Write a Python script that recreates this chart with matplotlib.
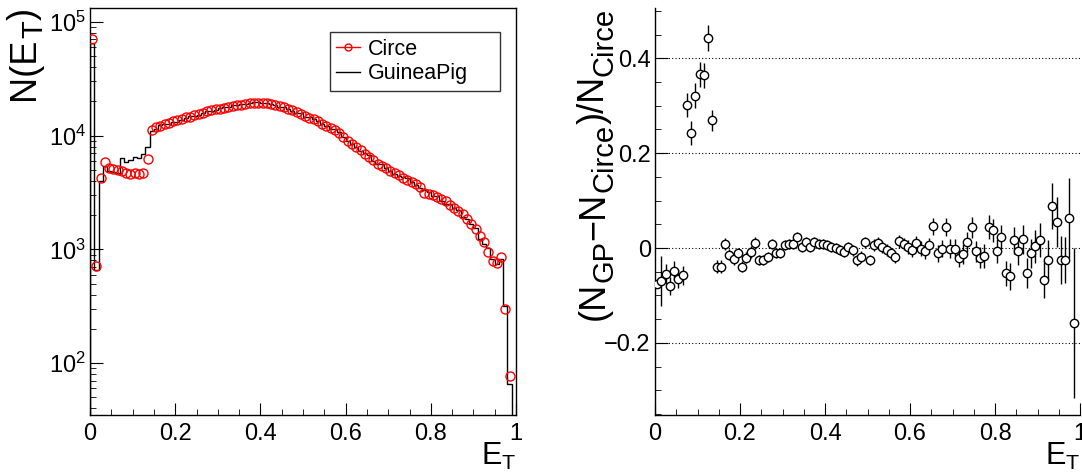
import numpy as np
import matplotlib
matplotlib.use('Agg')
import matplotlib.pyplot as plt
from matplotlib.ticker import MultipleLocator, LogLocator, NullFormatter, FuncFormatter
from matplotlib.lines import Line2D

plt.rcParams['font.family'] = ['Liberation Sans', 'DejaVu Sans']
plt.rcParams['mathtext.fontset'] = 'custom'
plt.rcParams['mathtext.rm'] = 'Liberation Sans'
plt.rcParams['mathtext.it'] = 'Liberation Sans'
plt.rcParams['mathtext.default'] = 'regular'

# ---------------- data ----------------
n_bins = 100
e_min, e_max = 0.0, 1.0

circe_counts = [
    70000, 713, 4220, 5910, 5160, 5130, 5020, 4920, 4700, 4630,
    4730, 4630, 4730, 6240, 11290, 11920, 12240, 12680, 13010, 13360,
    13750, 14100, 14490, 14690, 15080, 15500, 15920, 16360, 16600, 17030,
    17270, 17500, 17740, 18240, 18370, 18620, 18750, 19230, 19370, 19370,
    19370, 19230, 18970, 18620, 18090, 17740, 17170, 16690, 16030, 15610,
    14990, 14310, 13830, 13280, 12680, 12240, 11690, 11140, 10620, 9750,
    8920, 8340, 7890, 7430, 6950, 6450, 6070, 5670, 5370, 5200,
    4920, 4700, 4480, 4250, 4050, 3920, 3730, 3540, 3150, 3050,
    2990, 2900, 2785, 2660, 2450, 2330, 2175, 2040, 1860, 1670,
    1500, 1303, 1153, 942, 786, 760, 851, 296, 77,
]

guineapig_counts = [
    64750, 663, 3990, 5430, 4910, 4800, 4730, 6400, 5840, 6120,
    6460, 6320, 6830, 7920, 10850, 11455, 12340, 12500, 12700, 13210,
    13210, 13820, 14370, 14850, 14700, 15110, 15620, 16490, 16420, 16860,
    17370, 17660, 17880, 18680, 18410, 18860, 18790, 19480, 19520, 19520,
    19490, 19270, 18970, 18550, 17950, 17780, 17080, 16260, 15740, 15800,
    14620, 14400, 13980, 13310, 12630, 12110, 11470, 11300, 10700, 9770,
    8880, 8430, 7880, 7380, 6990, 6750, 6000, 5660, 5610, 5190,
    4910, 4610, 4420, 4310, 4230, 3890, 3660, 3480, 3290, 3160,
    2970, 2970, 2640, 2500, 2490, 2310, 2210, 1930, 1840, 1680,
    1530, 1220, 1120, 1030, 830, 740, 830, 315, 65,
]

ratio = [
    -0.075, -0.070, -0.055, -0.081, -0.048, -0.065, -0.057, 0.301, 0.243, 0.321,
    0.366, 0.364, 0.443, 0.269, -0.039, -0.039, 0.008, -0.014, -0.024, -0.011,
    -0.039, -0.020, -0.008, 0.011, -0.025, -0.025, -0.019, 0.008, -0.011, -0.010,
    0.006, 0.009, 0.008, 0.024, 0.002, 0.013, 0.002, 0.013, 0.008, 0.008,
    0.006, 0.002, 0.000, -0.004, -0.008, 0.002, -0.005, -0.026, -0.018, 0.012,
    -0.025, 0.006, 0.011, 0.002, -0.004, -0.011, -0.019, 0.014, 0.008, 0.002,
    -0.004, 0.011, -0.001, -0.007, 0.006, 0.046, -0.011, -0.001, 0.044, -0.001,
    -0.001, -0.020, -0.013, 0.013, 0.044, -0.007, -0.020, -0.017, 0.045, 0.037,
    -0.006, 0.023, -0.053, -0.060, 0.016, -0.007, 0.018, -0.053, -0.011, 0.004,
    0.017, -0.067, -0.025, 0.089, 0.055, -0.025, -0.025, 0.063, -0.158,
]

ratio_err = [
    0.006, 0.053, 0.021, 0.019, 0.020, 0.020, 0.020, 0.025, 0.025, 0.026,
    0.026, 0.026, 0.027, 0.022, 0.013, 0.013, 0.013, 0.012, 0.012, 0.012,
    0.012, 0.012, 0.012, 0.012, 0.011, 0.011, 0.011, 0.011, 0.011, 0.011,
    0.010, 0.010, 0.010, 0.010, 0.010, 0.010, 0.010, 0.010, 0.010, 0.010,
    0.010, 0.010, 0.010, 0.010, 0.010, 0.010, 0.011, 0.011, 0.011, 0.011,
    0.011, 0.012, 0.012, 0.012, 0.012, 0.012, 0.013, 0.013, 0.013, 0.015,
    0.015, 0.015, 0.016, 0.016, 0.016, 0.018, 0.018, 0.018, 0.019, 0.019,
    0.019, 0.021, 0.021, 0.021, 0.022, 0.022, 0.022, 0.025, 0.025, 0.025,
    0.026, 0.026, 0.026, 0.028, 0.028, 0.028, 0.031, 0.031, 0.031, 0.035,
    0.035, 0.039, 0.042, 0.048, 0.052, 0.051, 0.048, 0.085, 0.158,
]

legend_labels = ['Circe', 'GuineaPig']
xlabel_text = r'$E_{T}$'
# y-axis titles as (text, is_subscript) pieces (ROOT-style large subscripts)
ylabel_left_pieces = [('N(E', False), ('T', True), (')', False)]
ylabel_right_pieces = [('(N', False), ('GP', True), ('\u2212N', False),
                       ('Circe', True), (')/N', False), ('Circe', True)]

# ---------------- figure ----------------
edges = np.linspace(e_min, e_max, n_bins + 1)
centers = 0.5 * (edges[:-1] + edges[1:])
n_filled = len(circe_counts)

W, H = 1082, 472
fig = plt.figure(figsize=(W / 100, H / 100), dpi=100)

def axpos(x0, x1, y0, y1):
    return [x0 / W, 1 - y1 / H, (x1 - x0) / W, (y1 - y0) / H]

axL = fig.add_axes(axpos(90, 516, 8, 415))
axR = fig.add_axes(axpos(655, 1080, 8, 415))

tick_fs = 17
label_fs = 22
ytitle_fs = 26
ytitle_sub_fs = 21
sub_shift_px = 8


def draw_vertical_title(x_base_px, y_top_px, pieces):
    renderer = fig.canvas.get_renderer()
    widths = []
    for s, is_sub in pieces:
        t = fig.text(0, 0, s, fontsize=ytitle_sub_fs if is_sub else ytitle_fs)
        widths.append(t.get_window_extent(renderer=renderer).width)
        t.remove()
    y = (H - y_top_px) - sum(widths)
    for (s, is_sub), w in zip(pieces, widths):
        x = x_base_px + (sub_shift_px if is_sub else 0)
        fig.text(x / W, y / H, s, fontsize=ytitle_sub_fs if is_sub else ytitle_fs,
                 rotation=90, rotation_mode='anchor', ha='left', va='baseline')
        y += w


# Left panel
axL.stairs(guineapig_counts, edges[:n_filled + 1], baseline=1.0,
           color='black', linewidth=1.0, zorder=2)
axL.plot(centers[:n_filled], circe_counts, linestyle='none', marker='o',
         markersize=6.5, markerfacecolor='none', markeredgecolor='red',
         markeredgewidth=1.0, zorder=3)
axL.set_yscale('log')
axL.set_xlim(e_min, e_max)
axL.set_ylim(35, 1.32e5)
axL.yaxis.set_major_locator(LogLocator(base=10, numticks=10))
axL.yaxis.set_minor_locator(LogLocator(base=10, subs=np.arange(2, 10), numticks=20))
axL.yaxis.set_minor_formatter(NullFormatter())

fmt_x = FuncFormatter(lambda v, p: f'{v:g}')
for ax in (axL, axR):
    ax.xaxis.set_major_locator(MultipleLocator(0.2))
    ax.xaxis.set_minor_locator(MultipleLocator(0.05))
    ax.xaxis.set_major_formatter(fmt_x)
    ax.tick_params(axis='both', which='both', direction='in', labelsize=tick_fs,
                   top=False, right=False)
    ax.tick_params(axis='x', which='major', length=9, pad=6)
    ax.tick_params(axis='x', which='minor', length=4.5)
    ax.tick_params(axis='y', which='major', length=9, pad=3)
    ax.tick_params(axis='y', which='minor', length=4.5)
    for s in ax.spines.values():
        s.set_linewidth(1.0)

axL.set_xlabel(xlabel_text, fontsize=label_fs, loc='right', labelpad=-3)

handles = [Line2D([], [], color='red', marker='o', markersize=5,
                  markerfacecolor='none', linewidth=1.0),
           Line2D([], [], color='black', linewidth=1.0)]
leg = axL.legend(handles, legend_labels, loc='upper left',
                 bbox_to_anchor=(0.563, 0.94, 0.399, 0.0), mode='expand',
                 borderaxespad=0, fontsize=15.5, frameon=True, fancybox=False,
                 handlelength=1.1, handletextpad=0.35, labelspacing=0.15,
                 borderpad=0.3)
leg.get_frame().set_edgecolor('black')
leg.get_frame().set_linewidth(1.0)

# Right panel
axR.errorbar(centers[:n_filled], ratio, yerr=ratio_err, fmt='o',
             markersize=6, markerfacecolor='white', markeredgecolor='black',
             markeredgewidth=1.0, ecolor='black', elinewidth=1.0, capsize=0,
             zorder=3)
axR.set_xlim(e_min, e_max)
axR.set_ylim(-0.352, 0.506)
axR.yaxis.set_major_locator(MultipleLocator(0.2))
axR.yaxis.set_minor_locator(MultipleLocator(0.05))
axR.yaxis.set_major_formatter(FuncFormatter(
    lambda v, p: ('%g' % round(v, 3)).replace('-', '\u2212') if abs(v) > 1e-9 else '0'))
axR.grid(axis='y', which='major', linestyle=(0, (1, 2)), color='black',
         linewidth=0.8, zorder=0)
axR.spines['top'].set_visible(False)
axR.spines['right'].set_visible(False)
axR.set_xlabel(xlabel_text, fontsize=label_fs, loc='right', labelpad=-3)

draw_vertical_title(34, 8, ylabel_left_pieces)
draw_vertical_title(604, 8, ylabel_right_pieces)

fig.savefig('out.png', dpi=100)
